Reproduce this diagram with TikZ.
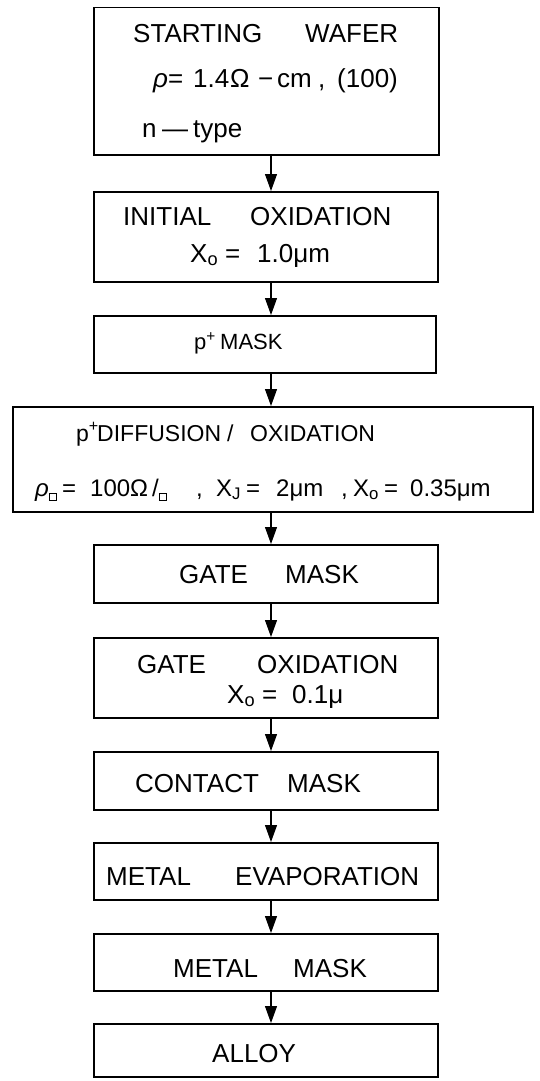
\documentclass[tikz,border=0pt]{standalone}
\usepackage{fontspec}
\setmainfont{Liberation Sans}
\usetikzlibrary{arrows.meta}
\newcommand\sqbox{{\setlength\fboxsep{0pt}\setlength\fboxrule{0.9pt}\fbox{\rule{0pt}{6pt}\hspace{6pt}}}}
\newcommand\mb[2]{\makebox[#1pt][l]{#2}}
\tikzset{
  box/.style={draw, line width=1.5pt, anchor=north west, inner sep=0pt},
  lbl/.style={anchor=base west, inner sep=0pt, font=\fontsize{26}{30}\selectfont},
  arr/.style={line width=1.1pt, -{Triangle[length=17pt,width=12pt]}}
}
\begin{document}
\begin{tikzpicture}[x=1pt,y=-1pt]
\useasboundingbox (0,0) rectangle (540,1081);
\coordinate (ax) at (271,0);
% boxes
\node[box, minimum width=345pt, minimum height=147pt] (b1) at (93,7) {};
\node[box, minimum width=344pt, minimum height=90pt] (b2) at (93,191) {};
\node[box, minimum width=342pt, minimum height=57pt] (b3) at (93,315) {};
\node[box, minimum width=520pt, minimum height=105pt] (b4) at (12,406) {};
\node[box, minimum width=344pt, minimum height=58pt] (b5) at (93,544) {};
\node[box, minimum width=344pt, minimum height=80pt] (b6) at (93,637) {};
\node[box, minimum width=344pt, minimum height=58pt] (b7) at (93,751) {};
\node[box, minimum width=344pt, minimum height=57pt] (b8) at (93,842) {};
\node[box, minimum width=344pt, minimum height=57pt] (b9) at (93,933) {};
\node[box, minimum width=344pt, minimum height=53pt] (b10) at (93,1023) {};
% texts
\node[lbl] (t1a) at (133,43) {\mb{172}{STARTING}WAFER};
\node[lbl] (t1b) at (153,88) {\mb{15}{\textit{ρ}}\mb{25}{=}\mb{37}{1.4}\mb{28}{Ω}\mb{19}{−}\mb{41}{cm}\mb{19}{,}(100)};
\node[lbl] (t1c) at (142,137) {\mb{20}{n}\mb{31}{—}type};
\node[lbl] (t2a) at (123,225) {\mb{127}{INITIAL}OXIDATION};
\node[lbl] (t2b) at (190,262) {\mb{35}{X\textsubscript{o}}\mb{32}{=}1.0μm};
\node[lbl, font=\fontsize{22}{26}\selectfont] (t3) at (194,349) {\mb{26}{p\textsuperscript{+}}MASK};
\node[lbl, font=\fontsize{23}{28}\selectfont] (t4a) at (76,441) {\mb{21}{p\textsuperscript{+}}\mb{130}{DIFFUSION}\mb{23}{/}OXIDATION};
\node[lbl, font=\fontsize{24}{28}\selectfont] (t4b) at (35,496) {\mb{27}{\textit{ρ}\textsubscript{\sqbox}}\mb{28}{=}\mb{62}{100Ω}\mb{44}{/\textsubscript{\sqbox}}\mb{20}{,}\mb{30}{X\textsubscript{J}}\mb{30}{=}\mb{65}{2μm}\mb{12}{,}\mb{31}{X\textsubscript{o}}\mb{26}{=}0.35μm};
\node[lbl] (t5) at (179,583) {\mb{106}{GATE}MASK};
\node[lbl] (t6a) at (137,673) {\mb{120}{GATE}OXIDATION};
\node[lbl] (t6b) at (227,703) {\mb{35}{X\textsubscript{o}}\mb{30}{=}0.1μ};
\node[lbl] (t7) at (135,792) {\mb{152}{CONTACT}MASK};
\node[lbl] (t8) at (106,885) {\mb{129}{METAL}EVAPORATION};
\node[lbl] (t9) at (173,977) {\mb{120}{METAL}MASK};
\node[lbl] (t10) at (212,1062) {ALLOY};
% arrows
\draw[arr] (b1.south -| ax) -- (b2.north -| ax);
\draw[arr] (b2.south -| ax) -- (b3.north -| ax);
\draw[arr] (b3.south -| ax) -- (b4.north -| ax);
\draw[arr] (b4.south -| ax) -- (b5.north -| ax);
\draw[arr] (b5.south -| ax) -- (b6.north -| ax);
\draw[arr] (b6.south -| ax) -- (b7.north -| ax);
\draw[arr] (b7.south -| ax) -- (b8.north -| ax);
\draw[arr] (b8.south -| ax) -- (b9.north -| ax);
\draw[arr] (b9.south -| ax) -- (b10.north -| ax);
\end{tikzpicture}
\end{document}
